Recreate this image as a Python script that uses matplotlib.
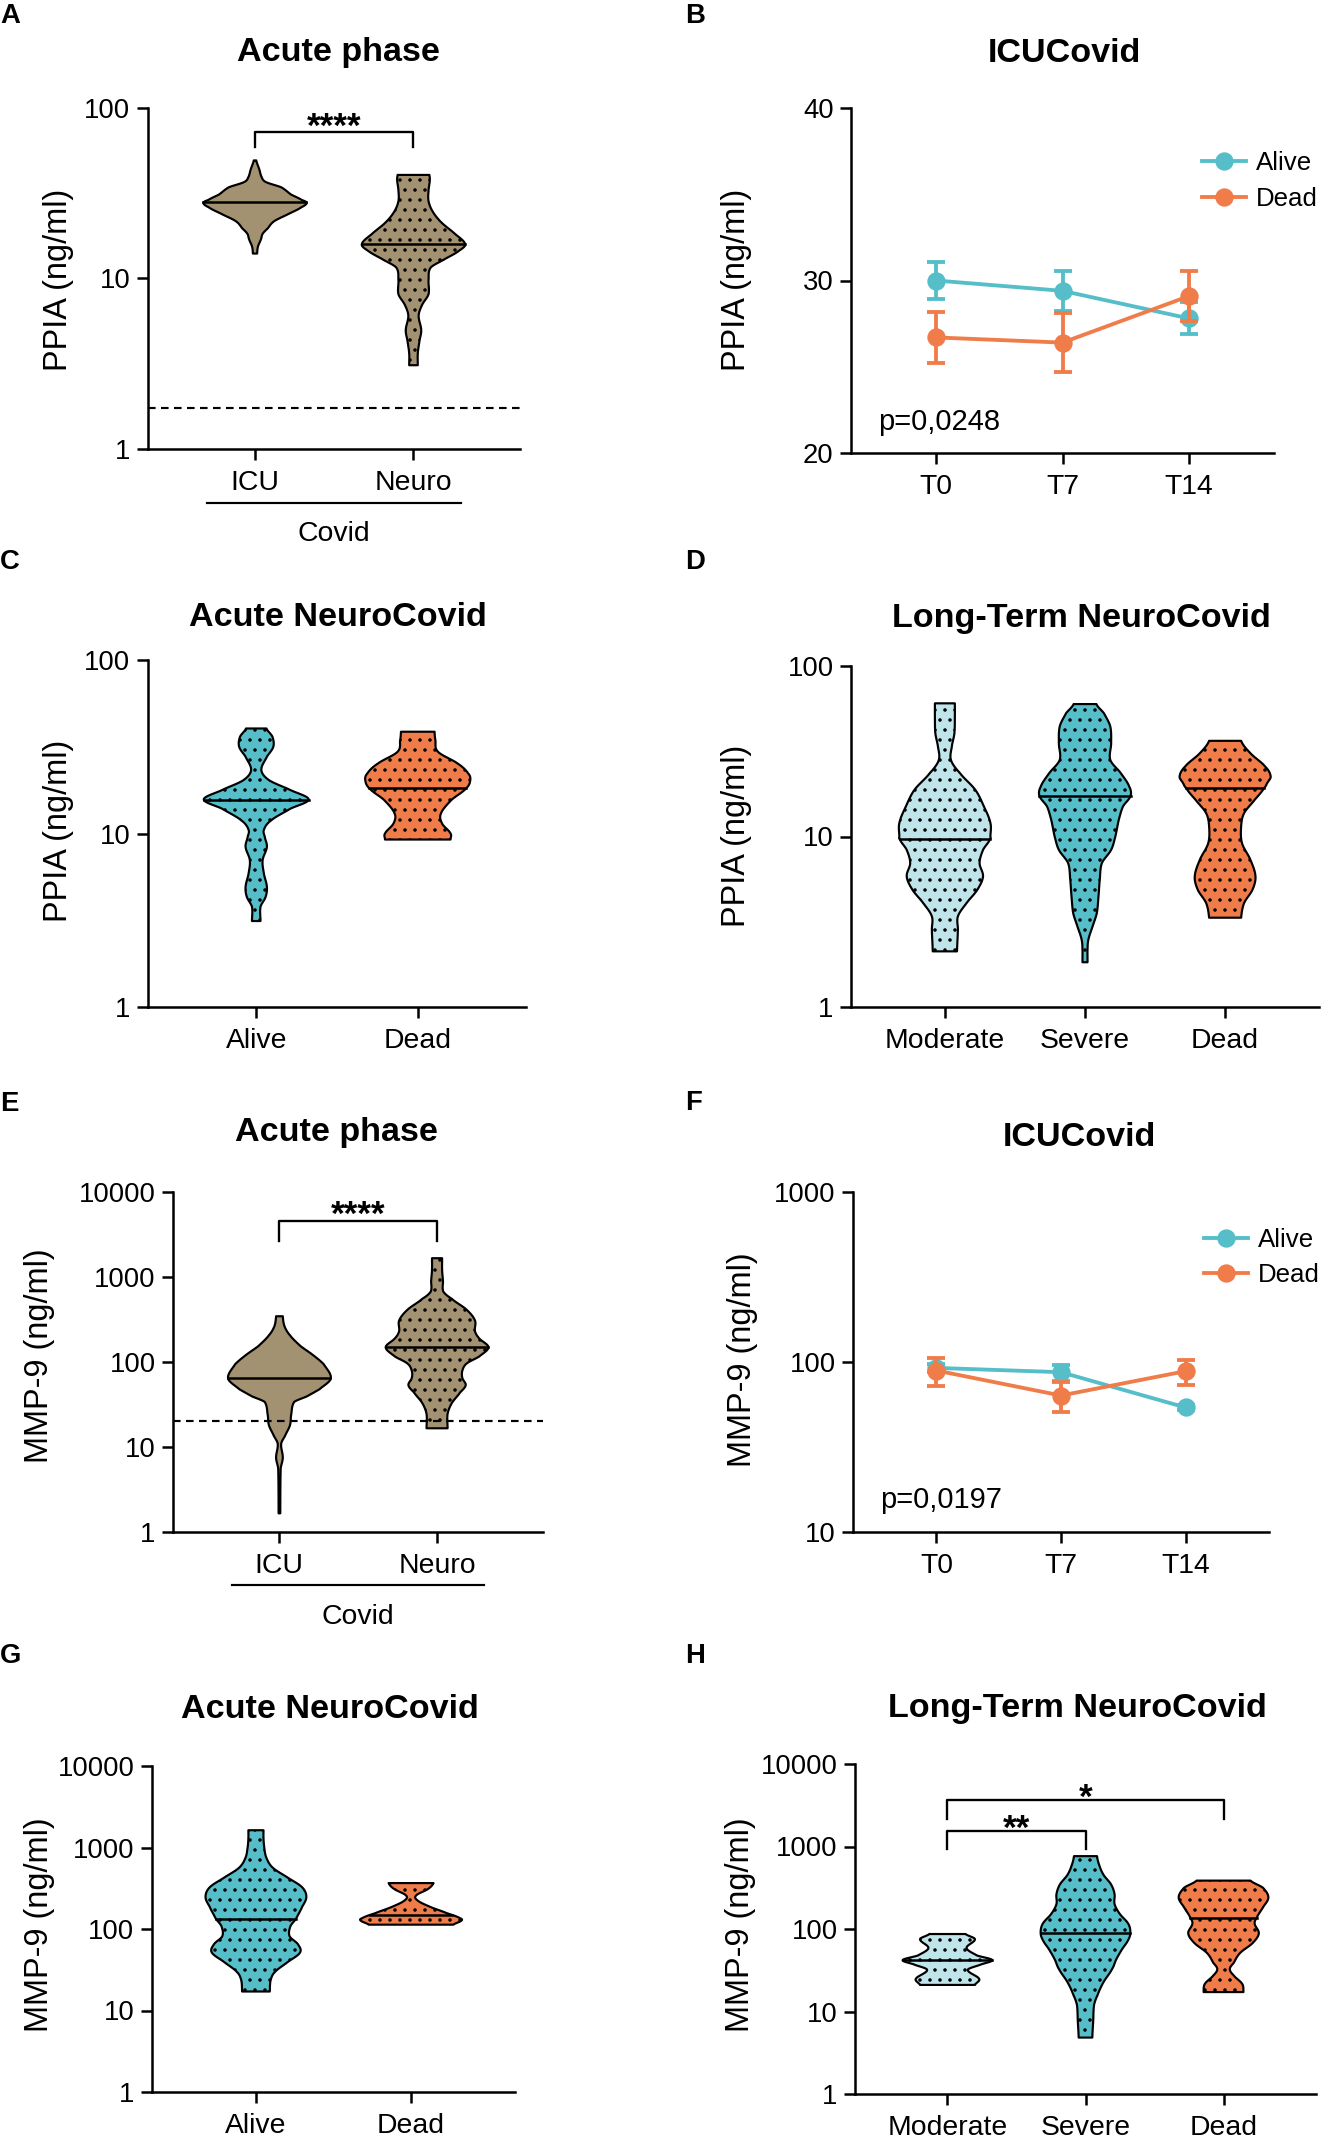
import numpy as np
import matplotlib.pyplot as plt
import matplotlib.transforms as mtransforms
from matplotlib.lines import Line2D

plt.rcParams['font.family'] = ['Liberation Sans', 'DejaVu Sans']
plt.rcParams['hatch.linewidth'] = 0.9

TAN = '#A39271'
CYAN = '#56BEC9'
ORANGE = '#F07C4A'
LIGHT = '#BFE4EA'

# ---- data ----
# violins: levels (top -> bottom, ng/ml), width read at each level, median
a_groups = ['ICU', 'Neuro']
a_icu_lvl = [49.6, 44.0, 39.9, 37.1, 34.5, 31.3, 29.1, 28.0, 26.4, 24.0, 21.8, 19.8, 18.4, 17.1, 15.5, 14.1]
a_icu_w = [3, 10, 15, 25, 62, 85, 110, 122, 110, 78, 45, 30, 18, 14, 7, 5]
a_icu_med = 28.0
a_neuro_lvl = [40.5, 38.0, 32.9, 28.4, 24.6, 21.3, 18.4, 15.9, 14.5, 13.1, 11.6, 9.82, 8.09, 7.0, 6.05, 4.98, 4.31, 3.64, 3.10]
a_neuro_w = [37, 38, 35, 35, 45, 65, 95, 120, 105, 75, 40, 35, 35, 20, 12, 18, 14, 10, 10]
a_neuro_med = 15.9
a_cutoff = 1.75

timepoints = ['T0', 'T7', 'T14']
b_alive = [30.0, 29.4, 27.8]
b_alive_sem = [1.05, 1.15, 0.93]
b_dead = [26.7, 26.4, 29.1]
b_dead_sem = [1.5, 1.7, 1.45]
b_p = 'p=0,0248'

c_groups = ['Alive', 'Dead']
c_alive_lvl = [40.3, 36.1, 31.6, 27.7, 23.2, 20.3, 17.8, 15.7, 13.9, 11.9, 10.5, 9.57, 8.38, 7.02, 5.87, 4.92, 4.31, 3.78, 3.13]
c_alive_w = [24, 38, 40, 25, 12, 30, 80, 123, 80, 35, 18, 20, 25, 15, 18, 25, 22, 10, 10]
c_alive_med = 15.7
c_dead_lvl = [38.6, 34.5, 29.6, 25.3, 22.2, 20.3, 18.2, 15.6, 13.0, 11.4, 10.0, 9.23]
c_dead_w = [40, 42, 48, 95, 120, 125, 115, 80, 55, 58, 78, 78]
c_dead_med = 18.2

d_groups = ['Moderate', 'Severe', 'Dead']
d_mod_lvl = [60.4, 50.5, 40.3, 33.7, 28.1, 23.5, 18.8, 15.0, 12.0, 10.0, 9.65, 8.35, 6.98, 5.84, 4.88, 4.07, 3.40, 2.84, 2.12]
d_mod_w = [23, 23, 22, 16, 14, 35, 70, 90, 105, 105, 104, 88, 80, 88, 75, 50, 30, 30, 28]
d_mod_med = 9.65
d_sev_lvl = [59.8, 52.8, 44.2, 35.2, 28.1, 23.5, 19.6, 17.3, 15.0, 12.5, 10.0, 8.35, 6.98, 5.57, 4.45, 3.55, 2.97, 2.48, 2.17, 1.83]
d_sev_w = [27, 45, 60, 62, 60, 85, 105, 108, 90, 80, 72, 62, 40, 35, 32, 28, 18, 8, 6, 6]
d_sev_med = 17.3
d_dead_lvl = [36.4, 30.8, 25.7, 22.5, 20.6, 19.2, 16.4, 13.7, 11.5, 9.15, 7.30, 5.84, 4.88, 4.07, 3.34]
d_dead_w = [38, 60, 95, 108, 100, 92, 70, 45, 38, 40, 60, 72, 65, 45, 38]
d_dead_med = 19.2

e_icu_lvl = [350, 267, 209, 156, 122, 95.7, 64.9, 48.4, 39.9, 34.4, 24.5, 18.3, 13.6, 11.0, 7.60, 5.68, 1.68]
e_icu_w = [8, 12, 25, 50, 80, 105, 122, 95, 65, 35, 28, 25, 13, 4, 8, 3, 2]
e_icu_med = 64.9
e_neuro_lvl = [1664, 1208, 902, 673, 554, 413, 308, 230, 190, 149, 116, 95.8, 78.8, 64.9, 53.4, 44.0, 32.8, 24.5, 16.6]
e_neuro_w = [12, 12, 14, 15, 35, 70, 90, 90, 100, 122, 100, 70, 60, 60, 68, 55, 35, 25, 25]
e_neuro_med = 149
e_cutoff = 20.1

f_alive = [92.3, 87.1, 54.0]
f_alive_sem = [5.5, 9.5, 2.0]
f_dead = [89.1, 63.5, 88.3]
f_dead_sem = [17.0, 13.0, 15.0]
f_p = 'p=0,0197'

g_alive_lvl = [1629, 1294, 982, 745, 565, 429, 325, 247, 187, 132, 108, 81.7, 64.9, 51.5, 39.1, 29.6, 23.6, 17.1]
g_alive_w = [18, 18, 20, 25, 40, 75, 110, 120, 110, 95, 82, 80, 100, 105, 75, 45, 35, 33]
g_alive_med = 132
g_dead_lvl = [366, 310, 258, 225, 187, 156, 136, 127, 113]
g_dead_w = [53, 40, 12, 15, 45, 85, 115, 119, 100]
g_dead_med = 149

h_mod_lvl = [86.9, 75.2, 58.8, 47.7, 42.0, 37.3, 32.0, 24.8, 21.0]
h_mod_w = [43, 65, 45, 70, 106, 80, 48, 75, 65]
h_mod_med = 42.0
h_sev_lvl = [764, 598, 455, 346, 264, 201, 153, 116, 90.2, 73.8, 56.2, 42.8, 32.6, 22.6, 15.7, 12.0, 7.60, 4.83]
h_sev_w = [27, 32, 42, 60, 68, 68, 80, 100, 105, 100, 85, 72, 62, 42, 28, 20, 18, 16]
h_sev_med = 90.2
h_dead_lvl = [386, 316, 241, 183, 137, 116, 88.5, 67.5, 51.3, 39.1, 32.6, 27.2, 21.6, 17.2]
h_dead_w = [65, 95, 108, 95, 80, 75, 85, 70, 40, 25, 15, 25, 45, 48]
h_dead_med = 137

# ---- figure ----
W, H = 1323, 2148
DPI = 120
fig = plt.figure(figsize=(W / DPI, H / DPI), dpi=DPI)

HALF = 0.325
STAR_SIZE = 21


def axes_px(x0, y0, x1, y1):
    return fig.add_axes([x0 / W, 1 - y1 / H, (x1 - x0) / W, (y1 - y0) / H])


def ftext(x, y, s, **kw):
    fig.text(x / W, 1 - y / H, s, **kw)


def style(ax, ncat):
    for s in ['top', 'right']:
        ax.spines[s].set_visible(False)
    for s in ['left', 'bottom']:
        ax.spines[s].set_linewidth(1.5)
    ax.tick_params(direction='out', length=6.5, width=1.5, labelsize=16.5, pad=4)
    ax.tick_params(axis='x', pad=6, labelsize=17)
    ax.set_xlim(-0.67, ncat - 1 + 0.67)


def log_y(ax, ticks):
    ax.set_yscale('log')
    ax.set_ylim(ticks[0], ticks[-1])
    ax.set_yticks(ticks, [str(t) for t in ticks])
    ax.minorticks_off()


def smooth_outline(levels, widths, n=10):
    # cardinal spline of the width along log(level), only to round the drawn outline
    ly = np.log10(levels)
    w = np.asarray(widths, float)
    wp = np.concatenate([[w[0]], w, [w[-1]]])
    ys, ws = [], []
    for i in range(len(w) - 1):
        p0, p1, p2, p3 = wp[i], wp[i + 1], wp[i + 2], wp[i + 3]
        for t in np.linspace(0, 1, n, endpoint=False):
            ys.append(ly[i] + t * (ly[i + 1] - ly[i]))
            ws.append(0.5 * (2 * p1 + (p2 - p0) * t + (2 * p0 - 5 * p1 + 4 * p2 - p3) * t ** 2
                             + (3 * p1 - p0 - 3 * p2 + p3) * t ** 3))
    ys.append(ly[-1])
    ws.append(w[-1])
    return 10 ** np.array(ys), np.clip(np.array(ws), 0.004, None)


def violin(ax, x, levels, widths, median, color, dots=True):
    w = np.array(widths, float) / max(widths) * HALF
    yy, ww = smooth_outline(levels, w)
    ax.fill_betweenx(yy, x - ww, x + ww, facecolor=color, edgecolor='black',
                     lw=1.3, hatch='..' if dots else None, zorder=2)
    wm = np.interp(np.log10(median), np.log10(yy[::-1]), ww[::-1])
    ax.plot([x - wm, x + wm], [median, median], color='black', lw=1.5, zorder=3)


def bracket(ax, x0, x1, ytop, ylow, label, drop=-4.5):
    ax.plot([x0, x0, x1, x1], [ylow, ytop, ytop, ylow], color='black', lw=1.4,
            clip_on=False, zorder=4)
    ax.annotate(label, ((x0 + x1) / 2, ytop), xytext=(0, drop), textcoords='offset points',
                ha='center', va='baseline', fontsize=STAR_SIZE, fontweight='bold',
                annotation_clip=False)


def group_line(ax, label):
    tr = mtransforms.blended_transform_factory(ax.transData, ax.transAxes)
    ax.plot([-0.3, 1.3], [-0.157, -0.157], color='black', lw=1.3,
            transform=tr, clip_on=False)
    ax.text(0.5, -0.25, label, transform=tr, ha='center', va='center', fontsize=17)


def line_panel(ax, alive, alive_sem, dead, dead_sem, anchor):
    xs = np.arange(len(timepoints))
    ax.errorbar(xs, alive, yerr=alive_sem, color=CYAN, marker='o', ms=10, lw=2.3,
                capsize=5.5, capthick=2.3, elinewidth=2.3, zorder=3)
    ax.errorbar(xs, dead, yerr=dead_sem, color=ORANGE, marker='o', ms=10, lw=2.3,
                capsize=5.5, capthick=2.3, elinewidth=2.3, zorder=4)
    ax.set_xticks(xs, timepoints)
    handles = [Line2D([], [], color=CYAN, marker='o', ms=10, lw=2.3),
               Line2D([], [], color=ORANGE, marker='o', ms=10, lw=2.3)]
    ax.legend(handles, ['Alive', 'Dead'], loc='upper left', bbox_to_anchor=anchor,
              frameon=False, fontsize=15.5, handlelength=1.7, handletextpad=0.4,
              labelspacing=0.45, borderaxespad=0, borderpad=0)


# A
ax = axes_px(148, 108, 520, 449)
style(ax, 2)
log_y(ax, [1, 10, 100])
violin(ax, 0, a_icu_lvl, a_icu_w, a_icu_med, TAN, dots=False)
violin(ax, 1, a_neuro_lvl, a_neuro_w, a_neuro_med, TAN)
ax.axhline(a_cutoff, color='black', lw=1.3, ls=(0, (3.5, 2.5)))
ax.set_xticks([0, 1], a_groups)
bracket(ax, 0, 1, 72, 59, '****', drop=-2.5)
group_line(ax, 'Covid')

# B
ax = axes_px(851, 108, 1274, 453)
style(ax, 3)
line_panel(ax, b_alive, b_alive_sem, b_dead, b_dead_sem, (0.83, 0.875))
ax.set_ylim(20, 40)
ax.set_yticks([20, 30, 40])
ax.text(-0.46, 21.8, b_p, ha='left', va='center', fontsize=17.5)

# C
ax = axes_px(148, 660, 526, 1007)
style(ax, 2)
log_y(ax, [1, 10, 100])
violin(ax, 0, c_alive_lvl, c_alive_w, c_alive_med, CYAN)
violin(ax, 1, c_dead_lvl, c_dead_w, c_dead_med, ORANGE)
ax.set_xticks([0, 1], c_groups)

# D
ax = axes_px(851, 666, 1319, 1007)
style(ax, 3)
log_y(ax, [1, 10, 100])
violin(ax, 0, d_mod_lvl, d_mod_w, d_mod_med, LIGHT)
violin(ax, 1, d_sev_lvl, d_sev_w, d_sev_med, CYAN)
violin(ax, 2, d_dead_lvl, d_dead_w, d_dead_med, ORANGE)
ax.set_xticks([0, 1, 2], d_groups)

# E
ax = axes_px(173, 1192, 543, 1532)
style(ax, 2)
log_y(ax, [1, 10, 100, 1000, 10000])
violin(ax, 0, e_icu_lvl, e_icu_w, e_icu_med, TAN, dots=False)
violin(ax, 1, e_neuro_lvl, e_neuro_w, e_neuro_med, TAN)
ax.axhline(e_cutoff, color='black', lw=1.3, ls=(0, (3.5, 2.5)))
ax.set_xticks([0, 1], a_groups)
bracket(ax, 0, 1, 4584, 2630, '****', drop=-2.5)
group_line(ax, 'Covid')

# F
ax = axes_px(853, 1192, 1269, 1532)
style(ax, 3)
line_panel(ax, f_alive, f_alive_sem, f_dead, f_dead_sem, (0.843, 0.895))
log_y(ax, [10, 100, 1000])
ax.text(-0.45, 15.4, f_p, ha='left', va='center', fontsize=17.5)

# G
ax = axes_px(152, 1766, 515, 2092)
style(ax, 2)
log_y(ax, [1, 10, 100, 1000, 10000])
violin(ax, 0, g_alive_lvl, g_alive_w, g_alive_med, CYAN)
violin(ax, 1, g_dead_lvl, g_dead_w, g_dead_med, ORANGE)
ax.set_xticks([0, 1], c_groups)

# H
ax = axes_px(855, 1764, 1316, 2094)
style(ax, 3)
log_y(ax, [1, 10, 100, 1000, 10000])
violin(ax, 0, h_mod_lvl, h_mod_w, h_mod_med, LIGHT)
violin(ax, 1, h_sev_lvl, h_sev_w, h_sev_med, CYAN)
violin(ax, 2, h_dead_lvl, h_dead_w, h_dead_med, ORANGE)
ax.set_xticks([0, 1, 2], d_groups)
bracket(ax, 0, 1, 1523, 942, '**')
bracket(ax, 0, 2, 3613, 2172, '*')

# titles, y labels, panel letters
titles = [(338, 52, 'Acute phase'), (1064, 53, 'ICUCovid'),
          (338, 617, 'Acute NeuroCovid'), (1081, 619, 'Long-Term NeuroCovid'),
          (336, 1132, 'Acute phase'), (1079, 1138, 'ICUCovid'),
          (330, 1709, 'Acute NeuroCovid'), (1077, 1709, 'Long-Term NeuroCovid')]
for x, y, s in titles:
    ftext(x, y, s, ha='center', va='center', fontsize=20.5, fontweight='bold')

ylabels = [(59, 280, 'PPIA (ng/ml)'), (737, 280, 'PPIA (ng/ml)'),
           (59, 831, 'PPIA (ng/ml)'), (736, 836, 'PPIA (ng/ml)'),
           (40, 1356, 'MMP-9 (ng/ml)'), (743, 1360, 'MMP-9 (ng/ml)'),
           (40, 1925, 'MMP-9 (ng/ml)'), (741, 1925, 'MMP-9 (ng/ml)')]
for x, y, s in ylabels:
    ftext(x, y, s, ha='center', va='center', rotation=90, fontsize=19.5)

letters = [(0, 16, 'A'), (685, 16, 'B'), (0, 562, 'C'), (685, 562, 'D'),
           (0, 1104, 'E'), (685, 1103, 'F'), (0, 1656, 'G'), (685, 1656, 'H')]
for x, y, s in letters:
    ftext(x, y, s, ha='left', va='center', fontsize=16.5, fontweight='bold')

fig.savefig('out.png', dpi=DPI)
